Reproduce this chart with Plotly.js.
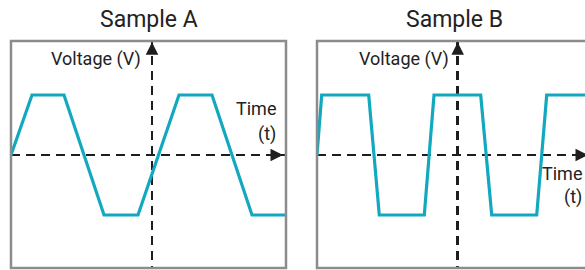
<!DOCTYPE html>
<html>
<head>
<meta charset="utf-8">
<script src="https://cdn.plot.ly/plotly-3.0.1.min.js"></script>
<style>
html,body{margin:0;padding:0;overflow:hidden;background:#fff;}
#chart{width:600px;height:270px;}
</style>
</head>
<body>
<div id="chart"></div>
<script>
// Sample A: trapezoidal wave (time in arbitrary units, voltage normalised)
var timeA = [-14.1, -12.0, -8.8, -4.8, -1.4, 2.7, 6.0, 10.0, 13.4];
var voltA = [0, 1, 1, -1, -1, 1, 1, -1, -1];
// Sample B: near-square wave with faster edges
var timeB = [-14.07, -13.6, -8.9, -7.84, -3.34, -2.37, 2.3, 3.4, 7.9, 8.9, 13.33];
var voltB = [0, 1, 1, -1, -1, 1, 1, -1, -1, 1, 1];
var titles = ['Sample A', 'Sample B'];
var yLabel = 'Voltage (V)';
var xLabel1 = 'Time';
var xLabel2 = '(t)';

var W = 600, H = 270;
var teal = '#12a8bf';
var ink = '#1e1e1e';
var boxGray = '#8c8c8c';
var FONT = 'Roboto, "Liberation Sans", Arial, sans-serif';

function px(x){ return x / W; }
function py(y){ return (H - y) / H; }

var traces = [
  {x: timeA, y: voltA, xaxis: 'x', yaxis: 'y', mode: 'lines', line: {color: teal, width: 3.2}, hoverinfo: 'skip', cliponaxis: true},
  {x: timeB, y: voltB, xaxis: 'x2', yaxis: 'y2', mode: 'lines', line: {color: teal, width: 3.2}, hoverinfo: 'skip', cliponaxis: true}
];

function xax(dom, rng){
  return {domain: dom, range: rng, showticklabels: false, ticks: '', tickvals: [0],
    showgrid: true, gridcolor: ink, gridwidth: 2.5, griddash: '9px,6px',
    zeroline: false, showline: false, fixedrange: true, layer: 'above traces'};
}
function yax(anchor, rng){
  return {domain: [py(268), py(41)], range: rng, anchor: anchor, showticklabels: false, ticks: '', tickvals: [0],
    showgrid: true, gridcolor: ink, gridwidth: 2.5, griddash: '9px,6px',
    zeroline: false, showline: false, fixedrange: true, layer: 'above traces'};
}

var yr = [-1.883, 1.9];
var layout = {
  width: W, height: H,
  margin: {l: 0, r: 0, t: 0, b: 0, pad: 0},
  paper_bgcolor: '#fff', plot_bgcolor: '#fff',
  showlegend: false,
  xaxis: xax([px(11), px(286)], [-14.1, 13.4]),
  yaxis: yax('x', yr),
  xaxis2: xax([px(317), px(591)], [-14.07, 13.33]),
  yaxis2: yax('x2', yr),
  shapes: [
    {type: 'rect', xref: 'paper', yref: 'paper', x0: px(11), x1: px(286), y0: py(268), y1: py(41), line: {color: boxGray, width: 2.5}, layer: 'above'},
    {type: 'rect', xref: 'paper', yref: 'paper', x0: px(317), x1: px(591), y0: py(268), y1: py(41), line: {color: boxGray, width: 2.5}, layer: 'above'}
  ],
  annotations: [
    // titles
    {text: titles[0], xref: 'paper', yref: 'paper', x: px(148.5), y: py(19), xanchor: 'center', yanchor: 'middle', showarrow: false, font: {family: FONT, size: 23, color: '#222'}},
    {text: titles[1], xref: 'paper', yref: 'paper', x: px(454), y: py(19), xanchor: 'center', yanchor: 'middle', showarrow: false, font: {family: FONT, size: 23, color: '#222'}},
    // arrow heads
    {text: '', xref: 'x', yref: 'y', x: 0, y: 1.88, ax: 0, ay: 12, showarrow: true, arrowhead: 2, arrowsize: 1, arrowwidth: 2.5, arrowcolor: ink, standoff: 0},
    {text: '', xref: 'x', yref: 'y', x: 13.1, y: 0, ax: -12, ay: 0, showarrow: true, arrowhead: 2, arrowsize: 1, arrowwidth: 2.5, arrowcolor: ink, standoff: 0},
    {text: '', xref: 'x2', yref: 'y2', x: 0, y: 1.88, ax: 0, ay: 12, showarrow: true, arrowhead: 2, arrowsize: 1, arrowwidth: 2.5, arrowcolor: ink, standoff: 0},
    {text: '', xref: 'x2', yref: 'y2', x: 13.03, y: 0, ax: -12, ay: 0, showarrow: true, arrowhead: 2, arrowsize: 1, arrowwidth: 2.5, arrowcolor: ink, standoff: 0},
    // axis labels A
    {text: yLabel, xref: 'paper', yref: 'paper', x: px(143), y: py(59), xanchor: 'right', yanchor: 'middle', showarrow: false, font: {family: FONT, size: 18, color: '#222'}},
    {text: xLabel1, xref: 'paper', yref: 'paper', x: px(277.5), y: py(108.5), xanchor: 'right', yanchor: 'middle', showarrow: false, font: {family: FONT, size: 18, color: '#222'}},
    {text: xLabel2, xref: 'paper', yref: 'paper', x: px(277.5), y: py(133.5), xanchor: 'right', yanchor: 'middle', showarrow: false, font: {family: FONT, size: 18, color: '#222'}},
    // axis labels B
    {text: yLabel, xref: 'paper', yref: 'paper', x: px(451), y: py(58.5), xanchor: 'right', yanchor: 'middle', showarrow: false, font: {family: FONT, size: 18, color: '#222'}},
    {text: xLabel1, xref: 'paper', yref: 'paper', x: px(584), y: py(173.5), xanchor: 'right', yanchor: 'middle', showarrow: false, font: {family: FONT, size: 18, color: '#222'}},
    {text: xLabel2, xref: 'paper', yref: 'paper', x: px(584), y: py(197.5), xanchor: 'right', yanchor: 'middle', showarrow: false, font: {family: FONT, size: 18, color: '#222'}}
  ]
};

Plotly.newPlot('chart', traces, layout, {displayModeBar: false, staticPlot: true});
</script>
</body>
</html>
